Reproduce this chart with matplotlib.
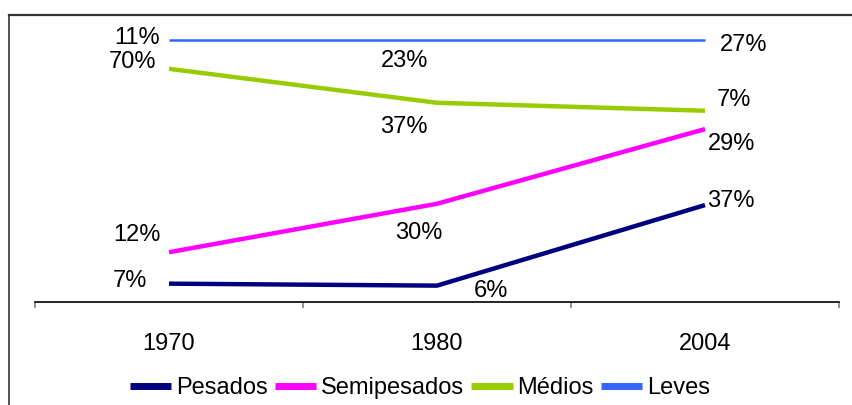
import numpy as np
import matplotlib
matplotlib.use("Agg")
import matplotlib.pyplot as plt
from matplotlib.lines import Line2D

plt.rcParams['font.family'] = ['Liberation Sans', 'DejaVu Sans']

# === Data (share of fleet, %) ===
years = ['1970', '1980', '2004']
pesados = [7, 6, 37]
semipesados = [12, 30, 29]
medios = [70, 37, 7]
leves = [11, 23, 27]

series_names = ['Pesados', 'Semipesados', 'Médios', 'Leves']
series_vals = [pesados, semipesados, medios, leves]
colors = ['#000080', '#FF00FF', '#99CC00', '#3366FF']
widths = [3.2, 3.2, 3.2, 1.8]

# label offsets in pixels (dx, dy) per series, per year
label_offsets = [
    [(-39, 3), (54, -5), (26, 4)],
    [(-32, 17), (-18, -29), (27, -15)],
    [(-37, 7), (-33, -24), (29, 11)],
    [(-32, 2), (-32, -21), (39, -5)],
]

# 100% stacked: cumulative share normalised per year
vals = np.array(series_vals, dtype=float)
stacked = np.cumsum(vals, axis=0) / vals.sum(axis=0) * 100

fig = plt.figure(figsize=(8.52, 4.05), dpi=100)
W, H = 852, 405
ax = fig.add_axes([35 / W, (H - 302) / H, (839 - 35) / W, (302 - 40) / H])

x = np.arange(len(years))
for name, ys, raw, c, lw, offs in zip(series_names, stacked, vals, colors, widths, label_offsets):
    ax.plot(x, ys, color=c, lw=lw, label=name, clip_on=False, solid_capstyle='butt')
    for xi, yi, v, (dx, dy) in zip(x, ys, raw, offs):
        ax.annotate(f"{v:.0f}%", (xi, yi), xytext=(dx, dy), textcoords='offset pixels',
                    ha='center', va='center', fontsize=17, color='black',
                    annotation_clip=False)

ax.set_xlim(-0.5, 2.5)
ax.set_ylim(0, 100)
ax.set_yticks([])
for s in ['top', 'left', 'right']:
    ax.spines[s].set_visible(False)
ax.spines['bottom'].set_linewidth(1.2)

ax.set_xticks([-0.5, 0.5, 1.5, 2.5])
ax.set_xticklabels([])
ax.tick_params(axis='x', which='major', direction='out', length=4.5, width=1.2, color='#808080')
ax.set_xticks(x, minor=True)
ax.set_xticklabels(years, minor=True, fontsize=17)
ax.tick_params(axis='x', which='minor', length=0, pad=22)

leg = fig.legend(loc='center', bbox_to_anchor=(420 / W, (H - 388) / H), ncol=4, frameon=False,
                 fontsize=17, handlelength=1.75, handletextpad=0.2, columnspacing=0.3,
                 borderaxespad=0)
for h in leg.legend_handles:
    h.set_linewidth(5)

# chart border (top and left edges)
fig.add_artist(Line2D([9 / W, 1], [(H - 15) / H] * 2, transform=fig.transFigure, color='#333333', lw=1.6))
fig.add_artist(Line2D([9 / W] * 2, [(H - 15) / H, 0], transform=fig.transFigure, color='#333333', lw=1.2))

fig.savefig('out.png', dpi=100)
